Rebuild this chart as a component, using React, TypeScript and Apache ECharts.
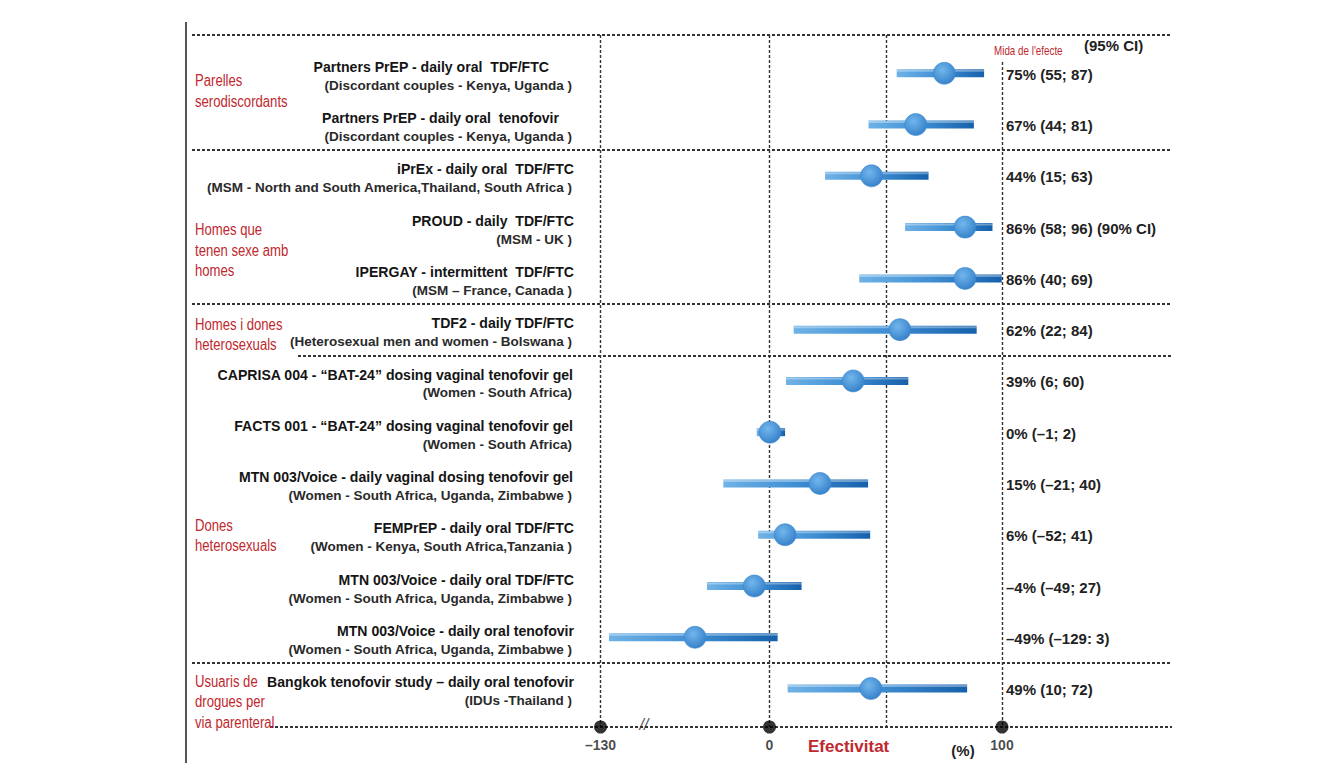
import React, { useEffect, useRef } from "react";
import * as echarts from "echarts";

// ---------------- DATA ----------------
const studyTitles = [
  "Partners PrEP - daily oral  TDF/FTC",
  "Partners PrEP - daily oral  tenofovir",
  "iPrEx - daily oral  TDF/FTC",
  "PROUD - daily  TDF/FTC",
  "IPERGAY - intermittent  TDF/FTC",
  "TDF2 - daily TDF/FTC",
  "CAPRISA 004 - \u201cBAT-24\u201d dosing vaginal tenofovir gel",
  "FACTS 001 - \u201cBAT-24\u201d dosing vaginal tenofovir gel",
  "MTN 003/Voice - daily vaginal dosing tenofovir gel",
  "FEMPrEP - daily oral TDF/FTC",
  "MTN 003/Voice - daily oral TDF/FTC",
  "MTN 003/Voice - daily oral tenofovir",
  "Bangkok tenofovir study \u2013 daily oral tenofovir",
];
const studyPopulations = [
  "(Discordant couples - Kenya, Uganda )",
  "(Discordant couples - Kenya, Uganda )",
  "(MSM - North and South America,Thailand, South Africa )",
  "(MSM - UK )",
  "(MSM \u2013 France, Canada )",
  "(Heterosexual men and women - Bolswana )",
  "(Women - South Africa)",
  "(Women - South Africa)",
  "(Women - South Africa, Uganda, Zimbabwe )",
  "(Women - Kenya, South Africa,Tanzania )",
  "(Women - South Africa, Uganda, Zimbabwe )",
  "(Women - South Africa, Uganda, Zimbabwe )",
  "(IDUs -Thailand )",
];
// positions of the marks as drawn in the figure (effectiveness, %)
const estimates = [75.2, 62.9, 43.9, 84.1, 84.1, 56.1, 36.0, 0.2, 21.7, 6.7, -11.7, -57.3, 43.6];
const ciLow = [54.7, 42.6, 23.9, 58.3, 38.6, 10.4, 7.1, -9.8, -35.5, -8.7, -48.1, -123.5, 7.8];
const ciHigh = [92.3, 87.9, 68.4, 95.9, 99.9, 89.1, 59.7, 6.7, 42.4, 43.3, 13.8, 3.5, 85.0];
// printed effect sizes
const effectLabels = [
  "75% (55; 87)",
  "67% (44; 81)",
  "44% (15; 63)",
  "86% (58; 96) (90% CI)",
  "86% (40; 69)",
  "62% (22; 84)",
  "39% (6; 60)",
  "0% (\u20131; 2)",
  "15% (\u201321; 40)",
  "6% (\u201352; 41)",
  "\u20134% (\u201349; 27)",
  "\u201349% (\u2013129: 3)",
  "49% (10; 72)",
];
const groupNames = [
  "Parelles\nserodiscordants",
  "Homes que\ntenen sexe amb\nhomes",
  "Homes i dones\nheterosexuals",
  "Dones\nheterosexuals",
  "Usuaris de\ndrogues per\nvia parenteral",
];
const groupSeparators = [1.5, 4.5, 5.5, 11.5];
const axisTicks = [-130, 0, 100];
const gridValues = [-130, 0, 50, 100];

// ---------------- LAYOUT ----------------
const W = 1327;
const H = 763;
const PX_PER_UNIT = 2.325;
const ZERO_PX = 769.5;
const NEG_RATIO = 0.559; // compressed negative side (broken axis)
const brk = (v: number) => (v < 0 ? v * NEG_RATIO : v);
const GRID = { left: 192, right: 155, top: 35, bottom: 36 };
const pxToX = (px: number) => (px - ZERO_PX) / PX_PER_UNIT;
const XMIN = pxToX(GRID.left);
const XMAX = pxToX(W - GRID.right);
const ROW0_PX = 73.3;
const ROW_PX = 51.27;
const YMIN = (GRID.top - ROW0_PX) / ROW_PX;
const YMAX = (H - GRID.bottom - ROW0_PX) / ROW_PX;
const groupLabelRows = [0.35, 3.45, 5.1, 9.02, 12.26];
const separatorStartPx = [192, 192, 298, 192];
const bottomStartPx = 270;
const hundredTop = -0.22;
const titleRightPx = [549, 559, 574, 574, 574, 574, 573, 573, 573, 574, 574, 574, 574];

const FONT = '"Liberation Sans", Arial, Helvetica, sans-serif';
const RED = "#c0282d";
const SUB_RIGHT = 572;
const EFFECT_LEFT = 1006;
const GROUP_LEFT = 195;

const fmtTick = (v: number) => (v < 0 ? "\u2013" + Math.abs(v) : String(v));

const dashH = { type: [3, 2], color: "#333", width: 2 };
const dashV = { type: [3, 2], color: "#333", width: 1.4 };

function buildOption() {
  const rows = studyTitles.map((_, i) => [i, brk(ciLow[i]), brk(estimates[i]), brk(ciHigh[i])]);

  const markData: any[] = [];
  gridValues.forEach((v) => {
    markData.push([
      { coord: [brk(v), v === 100 ? hundredTop : YMIN], lineStyle: dashV },
      { coord: [brk(v), YMAX] },
    ]);
  });
  markData.push([{ coord: [XMIN, YMIN], lineStyle: dashH }, { coord: [XMAX, YMIN] }]);
  groupSeparators.forEach((s, k) => {
    markData.push([{ coord: [pxToX(separatorStartPx[k]), s], lineStyle: dashH }, { coord: [XMAX, s] }]);
  });
  markData.push([{ coord: [pxToX(bottomStartPx), YMAX], lineStyle: dashH }, { coord: [XMAX, YMAX] }]);

  return {
    animation: false,
    backgroundColor: "#ffffff",
    grid: { ...GRID, containLabel: false },
    xAxis: { type: "value", min: XMIN, max: XMAX, show: false },
    yAxis: { type: "value", inverse: true, min: YMIN, max: YMAX, show: false },
    series: [
      {
        type: "scatter",
        name: "axis",
        clip: false,
        symbolSize: 13,
        z: 5,
        itemStyle: { color: "#000" },
        data: axisTicks.map((v) => [brk(v), YMAX, v]),
        label: {
          show: true,
          position: "bottom",
          distance: 4,
          formatter: (p: any) => fmtTick(p.data[2]),
          fontFamily: FONT,
          fontSize: 14,
          fontWeight: "bold",
          color: "#1a1a1a",
        },
        markLine: {
          silent: true,
          symbol: ["none", "none"],
          label: { show: false },
          data: markData,
          z: 1,
        },
      },
      {
        type: "custom",
        name: "studies",
        clip: false,
        z: 3,
        encode: { x: [1, 2, 3], y: 0 },
        data: rows,
        renderItem: (params: any, api: any) => {
          const i = api.value(0);
          const lo = api.coord([api.value(1), i]);
          const est = api.coord([api.value(2), i]);
          const hi = api.coord([api.value(3), i]);
          const y = lo[1];
          return {
            type: "group",
            children: [
              {
                type: "rect",
                shape: { x: lo[0], y: y - 4, width: hi[0] - lo[0], height: 8 },
                style: {
                  fill: new echarts.graphic.LinearGradient(0, 0, 1, 0, [
                    { offset: 0, color: "#6fb2e6" },
                    { offset: 0.5, color: "#3f8fd4" },
                    { offset: 1, color: "#1660ab" },
                  ]),
                },
              },
              {
                type: "rect",
                shape: { x: lo[0], y: y - 3.5, width: hi[0] - lo[0], height: 2 },
                style: { fill: "rgba(255,255,255,0.35)" },
              },
              {
                type: "circle",
                shape: { cx: est[0], cy: y, r: 11 },
                style: {
                  fill: new echarts.graphic.RadialGradient(0.4, 0.35, 0.8, [
                    { offset: 0, color: "#72b6ec" },
                    { offset: 1, color: "#2a77c3" },
                  ]),
                  stroke: "#3a86cf",
                  lineWidth: 0.6,
                },
              },
              {
                type: "text",
                x: titleRightPx[i],
                y: y - 6.5,
                scaleX: 0.94,
                style: {
                  text: studyTitles[i],
                  font: `bold 15px ${FONT}`,
                  fill: "#151515",
                  align: "right",
                  verticalAlign: "middle",
                },
              },
              {
                type: "text",
                x: SUB_RIGHT,
                y: y + 12,
                style: {
                  text: studyPopulations[i],
                  font: `bold 13.5px ${FONT}`,
                  fill: "#2a2a2a",
                  align: "right",
                  verticalAlign: "middle",
                },
              },
              {
                type: "text",
                x: EFFECT_LEFT,
                y: y + 1,
                style: {
                  text: effectLabels[i],
                  font: `bold 15px ${FONT}`,
                  fill: "#222",
                  align: "left",
                  verticalAlign: "middle",
                },
              },
            ],
          };
        },
      },
      {
        type: "custom",
        name: "groups",
        clip: false,
        z: 3,
        encode: { x: 0, y: 1 },
        data: groupNames.map((_, g) => [XMIN, groupLabelRows[g], g]),
        renderItem: (params: any, api: any) => {
          const g = api.value(2);
          const p = api.coord([api.value(0), api.value(1)]);
          return {
            type: "text",
            x: GROUP_LEFT,
            y: p[1],
            scaleX: 0.82,
            style: {
              text: groupNames[g],
              font: `16px ${FONT}`,
              lineHeight: 20.5,
              fill: RED,
              align: "left",
              verticalAlign: "middle",
            },
          };
        },
      },
    ],
    graphic: [
      {
        type: "line",
        shape: { x1: 186, y1: 22, x2: 186, y2: H },
        style: { stroke: "#555", lineWidth: 2 },
      },
      {
        type: "text",
        x: 1084,
        y: 45,
        style: { text: "(95% CI)", font: `bold 15px ${FONT}`, fill: "#222", align: "left", verticalAlign: "middle" },
      },
      {
        type: "text",
        x: 994,
        y: 51,
        scaleX: 0.82,
        style: { text: "Mida de l'efecte", font: `12px ${FONT}`, fill: RED, align: "left", verticalAlign: "middle" },
      },
      {
        type: "text",
        x: 808,
        y: 746,
        style: { text: "Efectivitat", font: `bold 17px ${FONT}`, fill: RED, align: "left", verticalAlign: "middle" },
      },
      {
        type: "text",
        x: 963,
        y: 750,
        style: { text: "(%)", font: `bold 15px ${FONT}`, fill: "#222", align: "center", verticalAlign: "middle" },
      },
      {
        type: "text",
        x: 644,
        y: 724,
        style: { text: "//", font: `italic 16px ${FONT}`, fill: "#555", align: "center", verticalAlign: "middle" },
      },
    ],
  };
}

export default function App() {
  const ref = useRef<HTMLDivElement>(null);
  useEffect(() => {
    if (!ref.current) return;
    const chart = echarts.init(ref.current, null, { renderer: "svg" });
    chart.setOption(buildOption() as any);
    return () => chart.dispose();
  }, []);
  return (
    <div
      ref={ref}
      style={{ position: "fixed", left: 0, top: 0, width: W, height: H, background: "#fff" }}
    />
  );
}
